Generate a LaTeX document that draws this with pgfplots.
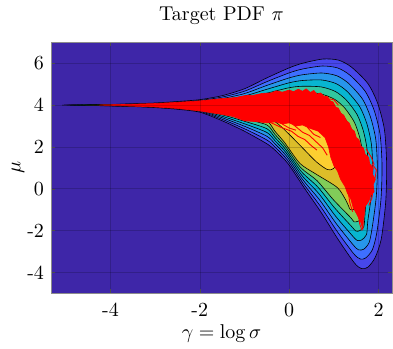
\documentclass[border=0pt]{standalone}
\usepackage{pgfplots}
\pgfplotsset{compat=1.18}
\usetikzlibrary{calc}

% parula colours for the filled contour bands
\definecolor{pbg}{RGB}{62,38,168}
\definecolor{p1}{RGB}{71,71,235}
\definecolor{p2}{RGB}{62,111,255}
\definecolor{p3}{RGB}{39,150,235}
\definecolor{p4}{RGB}{8,181,208}
\definecolor{p5}{RGB}{49,198,159}
\definecolor{p6}{RGB}{129,204,89}
\definecolor{p7}{RGB}{220,189,41}
\definecolor{p8}{RGB}{252,207,48}

\pgfplotsset{
  band/.style={fill=#1, draw=black, line width=0.3pt, smooth, tension=0.45},
  chain/.style={draw=red, fill=red, line width=0.3pt, line join=round},
  strand/.style={draw=red, line width=0.45pt, line join=round},
}

\begin{document}
\begin{tikzpicture}
\begin{axis}[
  scale only axis,
  width=170.5pt, height=125.5pt,
  xmin=-5.33, xmax=2.3, ymin=-5, ymax=7,
  xtick={-4,-2,0,2}, xticklabels={-4,-2,0,2},
  ytick={-4,-2,0,2,4,6}, yticklabels={-4,-2,0,2,4,6},
  tick align=inside, major tick length=2pt,
  tick style={black!70},
  grid=major, major grid style={black, opacity=0.18, line width=0.3pt},
  axis on top,
  axis line style={black!45},
  axis background/.style={fill=pbg},
  xticklabel style={yshift=-1.5pt},
  title={Target PDF $\pi$},
  title style={at={(0.5,1)}, anchor=base, yshift=5pt},
  xlabel={$\gamma = \log\sigma$},
  xlabel style={at={(axis description cs:0.5,0)}, anchor=base, yshift=-22.5pt},
  ylabel={$\mu$},
  ylabel style={at={(axis description cs:-0.097,0.5)}, anchor=center},
]

% level 1
\addplot[band=p1] coordinates {
(-5.08,4.0) (-4.5,4.015) (-4,4.03) (-3.5,4.06) (-3,4.10) (-2.5,4.17) (-2,4.26) (-1.5,4.45) (-1,4.78)
(-0.5,5.30) (0,5.78) (0.3,6.0) (0.75,6.2) (1.1,6.15) (1.39,5.82) (1.76,5.03) (1.98,4.08) (2.13,2.83)
(2.18,1.2) (2.16,-0.6) (2.06,-2.4) (1.92,-3.3) (1.76,-3.75) (1.62,-3.82) (1.46,-3.55) (1.09,-2.41)
(0.72,-1.15) (0.34,0.03) (-0.03,1.21) (-0.32,1.85) (-0.5,2.15)
(-1,2.75) (-1.5,3.25) (-2,3.66) (-2.5,3.80) (-3,3.88) (-3.5,3.93) (-4,3.96) (-4.5,3.98) (-5.08,4.0)
};
% level 2
\addplot[band=p2] coordinates {
(-4.98,4.0) (-4.5,4.013) (-4,4.027) (-3.5,4.053) (-3,4.087) (-2.5,4.149) (-2,4.226) (-1.5,4.383) (-1,4.665)
(-0.5,5.12) (0,5.54) (0.3,5.725) (0.742,5.867) (1.083,5.775) (1.362,5.425) (1.70,4.658) (1.90,3.75)
(2.033,2.592) (2.077,1.1) (2.053,-0.5) (1.96,-2.10) (1.86,-2.92) (1.71,-3.31) (1.59,-3.36)
(1.44,-3.10) (1.07,-2.03) (0.70,-0.842) (0.323,0.227) (-0.042,1.375) (-0.32,2.0) (-0.5,2.33)
(-1,2.868) (-1.5,3.321) (-2,3.695) (-2.5,3.821) (-3,3.893) (-3.5,3.937) (-4,3.965) (-4.5,3.982) (-4.98,4.0)
};
% level 3
\addplot[band=p3] coordinates {
(-4.88,4.0) (-4.5,4.012) (-4,4.023) (-3.5,4.045) (-3,4.075) (-2.5,4.127) (-2,4.191) (-1.5,4.317) (-1,4.55)
(-0.5,4.94) (0,5.30) (0.3,5.45) (0.733,5.533) (1.067,5.4) (1.333,5.03) (1.64,4.287) (1.82,3.42)
(1.937,2.353) (1.973,1.0) (1.947,-0.4) (1.86,-1.81) (1.79,-2.56) (1.67,-2.89) (1.55,-2.92)
(1.43,-2.68) (1.05,-1.66) (0.68,-0.533) (0.307,0.423) (-0.053,1.54) (-0.32,2.15) (-0.5,2.51)
(-1,2.987) (-1.5,3.393) (-2,3.729) (-2.5,3.843) (-3,3.905) (-3.5,3.945) (-4,3.969) (-4.5,3.985) (-4.88,4.0)
};
% level 4
\addplot[band=p4] coordinates {
(-4.78,4.0) (-4.5,4.01) (-4,4.02) (-3.5,4.038) (-3,4.062) (-2.5,4.106) (-2,4.157) (-1.5,4.25) (-1,4.435)
(-0.5,4.755) (0,5.065) (0.3,5.175) (0.725,5.2) (1.05,5.025) (1.305,4.635) (1.58,3.915) (1.74,3.09)
(1.84,2.115) (1.87,0.9) (1.84,-0.3) (1.76,-1.52) (1.73,-2.19) (1.62,-2.45) (1.52,-2.47)
(1.41,-2.24) (1.03,-1.29) (0.66,-0.225) (0.29,0.62) (-0.065,1.705) (-0.32,2.3) (-0.5,2.69)
(-1,3.105) (-1.5,3.464) (-2,3.763) (-2.5,3.864) (-3,3.918) (-3.5,3.952) (-4,3.974) (-4.5,3.987) (-4.78,4.0)
};
% level 5
\addplot[band=p5] coordinates {
(-4.68,4.0) (-4.5,4.008) (-4,4.016) (-3.5,4.03) (-3,4.049) (-2.5,4.085) (-2,4.122) (-1.5,4.183) (-1,4.32)
(-0.5,4.57) (0,4.83) (0.3,4.9) (0.717,4.867) (1.033,4.65) (1.277,4.24) (1.52,3.543) (1.66,2.76)
(1.743,1.877) (1.767,0.8) (1.733,-0.2) (1.7,-1.1) (1.67,-1.81) (1.57,-2.01) (1.49,-2.02)
(1.39,-1.79) (1.01,-0.9) (0.64,0.083) (0.273,0.817) (-0.077,1.87) (-0.32,2.45) (-0.5,2.87)
(-1,3.224) (-1.5,3.535) (-2,3.798) (-2.5,3.885) (-3,3.931) (-3.5,3.96) (-4,3.978) (-4.5,3.989) (-4.68,4.0)
};
% level 6
\addplot[band=p6] coordinates {
(-4.58,4.0) (-4,4.013) (-3.5,4.023) (-3,4.037) (-2.5,4.064) (-2,4.088) (-1.5,4.117) (-1,4.205)
(-0.5,4.39) (0,4.59) (0.3,4.625) (0.708,4.533) (1.017,4.275) (1.248,3.845) (1.46,3.172) (1.58,2.43)
(1.647,1.638) (1.663,0.7) (1.627,-0.1) (1.6,-0.85) (1.6,-1.45) (1.53,-1.56) (1.45,-1.58)
(1.37,-1.37) (0.99,-0.53) (0.62,0.392) (0.257,1.013) (-0.088,2.035) (-0.32,2.6) (-0.5,3.05)
(-1,3.342) (-1.5,3.607) (-2,3.833) (-2.5,3.906) (-3,3.943) (-3.5,3.967) (-4,3.983) (-4.58,4.0)
};
% level 7
\addplot[band=p7] coordinates {
(-4.48,4.0) (-4,4.009) (-3.5,4.015) (-3,4.024) (-2.5,4.042) (-2,4.053) (-1.5,4.06) (-1,4.09)
(-0.5,4.21) (0,4.35) (0.3,4.35) (0.7,4.2) (1.0,3.9) (1.22,3.45) (1.4,2.8) (1.5,2.1)
(1.55,1.4) (1.56,0.6) (1.52,0.0) (1.5,-0.5) (1.48,-0.92) (1.42,-1.0) (1.36,-0.98)
(1.28,-0.6) (1.08,0.05) (0.6,0.7) (0.24,1.21) (-0.1,2.2) (-0.32,2.75) (-0.5,3.23)
(-1,3.461) (-1.5,3.678) (-2,3.867) (-2.5,3.928) (-3,3.956) (-3.5,3.975) (-4,3.988) (-4.48,4.0)
};
% level 8
\addplot[band=p8] coordinates {
(-4.38,4.0) (-4,4.006) (-3.5,4.008) (-3,4.011) (-2.5,4.021) (-2,4.019) (-1.5,3.995) (-1,3.995)
(-0.5,4.03) (0,4.08) (0.35,4.0) (0.65,3.75) (0.9,3.3) (1.05,2.6) (1.12,1.9) (1.1,1.3) (0.98,0.95)
(0.85,0.92) (0.6,1.3) (0.3,1.95) (0,2.6) (-0.25,3.1) (-0.5,3.41)
(-1,3.579) (-1.5,3.749) (-2,3.902) (-2.5,3.949) (-3,3.969) (-3.5,3.982) (-4,3.992) (-4.38,4.0)
};

% sampled chain: dense cloud
\addplot[chain] coordinates {
(-4.25,4.0) (-4.0,4.012) (-3.5,4.04) (-3.0,4.075) (-2.5,4.13) (-2.0,4.2) (-1.5,4.31) (-1.2,4.36)
(-1.0,4.45) (-0.8,4.47) (-0.6,4.56) (-0.4,4.58) (-0.3,4.68) (-0.15,4.62) (0.0,4.72) (0.1,4.64)
(0.2,4.76) (0.3,4.66) (0.38,4.78) (0.47,4.6) (0.55,4.7) (0.62,4.52) (0.7,4.58) (0.78,4.42)
(0.86,4.4) (0.92,4.2) (0.98,4.15) (1.04,3.9) (1.1,3.85) (1.16,3.6) (1.22,3.52) (1.28,3.25)
(1.34,3.15) (1.4,2.85) (1.46,2.75) (1.5,2.45) (1.56,2.35) (1.6,2.05) (1.66,1.95) (1.7,1.65)
(1.78,1.5) (1.8,1.2) (1.88,1.0) (1.86,0.7) (1.93,0.45) (1.88,0.2) (1.9,-0.15) (1.83,-0.3)
(1.78,-0.6) (1.7,-0.85) (1.68,-1.25) (1.66,-1.5) (1.65,-1.95)
(1.6,-1.6) (1.52,-1.25) (1.43,-0.9) (1.38,-0.5) (1.3,-0.2) (1.25,0.1) (1.15,0.45) (1.08,0.85)
(1.0,1.1) (0.93,1.5) (0.88,2.0) (0.8,2.45) (0.65,2.75) (0.45,2.9) (0.3,3.05) (0.15,3.0)
(0.0,3.15) (-0.15,3.1) (-0.3,3.2) (-0.5,3.15) (-0.7,3.2) (-1.0,3.25) (-1.25,3.45) (-1.5,3.55)
(-2.0,3.72) (-2.5,3.84) (-3.0,3.91) (-3.5,3.95) (-4.0,3.985) (-4.25,4.0)
};
% sampled chain: single excursions
\addplot[strand] coordinates {(-0.45,3.2) (-0.2,2.95) (0.05,2.75) (0.2,2.5) (0.35,2.35) (0.5,2.05) (0.62,1.85)};
\addplot[strand] coordinates {(0.1,3.05) (0.3,2.7) (0.45,2.55) (0.6,2.25) (0.75,1.95) (0.85,1.6)};
\addplot[strand] coordinates {(-0.2,3.15) (0.0,2.9) (0.15,2.8)};
\addplot[strand] coordinates {(0.4,2.95) (0.55,2.6) (0.7,2.45)};
\addplot[strand] coordinates {(1.2,0.6) (1.28,0.1) (1.33,-0.3) (1.36,-0.7) (1.42,-1.1)};
\addplot[strand] coordinates {(1.55,-1.3) (1.58,-1.7) (1.63,-2.0)};
\addplot[strand] coordinates {(1.85,1.2) (1.95,0.9) (1.92,0.5)};
\addplot[strand] coordinates {(1.72,1.9) (1.84,1.5) (1.9,1.15)};
\addplot[strand] coordinates {(1.88,0.0) (1.85,-0.45) (1.78,-0.8)};
\addplot[strand] coordinates {(0.9,4.3) (1.0,4.25) (1.1,4.0)};
\end{axis}
\path ($(current axis.south west)+(-25.5pt,-25pt)$) rectangle ($(current axis.north east)+(0.5pt,17pt)$);
\end{tikzpicture}
\end{document}
